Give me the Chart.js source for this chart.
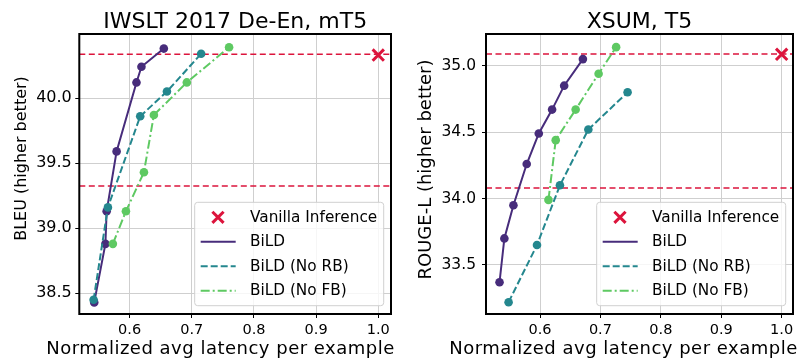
<!DOCTYPE html>
<html><head><meta charset="utf-8">
<script src="https://cdn.jsdelivr.net/npm/chart.js@4.4.0/dist/chart.umd.min.js"></script>
<style>
html,body{margin:0;padding:0;background:#fff;}
#wrap{position:relative;width:804px;height:362px;overflow:hidden;}
.c{position:absolute;top:0;height:362px;width:402px;}
</style></head><body>
<div id="wrap">
<div class="c" style="left:0"><canvas id="c1"></canvas></div>
<div class="c" style="left:402px"><canvas id="c2"></canvas></div>
</div>
<script>
// ---------- data ----------
const seriesLabels = ['Vanilla Inference', 'BiLD', 'BiLD (No RB)', 'BiLD (No FB)'];
const xLabel = 'Normalized avg latency per example';
const xTicks = [0.6, 0.7, 0.8, 0.9, 1.0];

// IWSLT 2017 De-En, mT5
const iwsltTitle = 'IWSLT 2017 De-En, mT5';
const iwsltYLabel = 'BLEU (higher better)';
const iwsltYTicks = [38.5, 39.0, 39.5, 40.0];
const iwsltVanillaX = [1.0];
const iwsltVanillaY = [40.33];
const iwsltRefLines = [40.336, 39.325];
const iwsltBildX = [0.543, 0.561, 0.563, 0.579, 0.611, 0.619, 0.655];
const iwsltBildY = [38.43, 38.88, 39.13, 39.59, 40.12, 40.24, 40.38];
const iwsltNoRbX = [0.542, 0.565, 0.617, 0.660, 0.715];
const iwsltNoRbY = [38.45, 39.16, 39.86, 40.05, 40.34];
const iwsltNoFbX = [0.573, 0.594, 0.623, 0.639, 0.692, 0.760];
const iwsltNoFbY = [38.88, 39.13, 39.43, 39.87, 40.12, 40.39];

// XSUM, T5
const xsumTitle = 'XSUM, T5';
const xsumYLabel = 'ROUGE-L (higher better)';
const xsumYTicks = [33.5, 34.0, 34.5, 35.0];
const xsumVanillaX = [1.0];
const xsumVanillaY = [35.086];
const xsumRefLines = [35.088, 34.08];
const xsumBildX = [0.533, 0.541, 0.556, 0.578, 0.598, 0.620, 0.640, 0.671];
const xsumBildY = [33.37, 33.70, 33.95, 34.26, 34.49, 34.67, 34.85, 35.05];
const xsumNoRbX = [0.548, 0.595, 0.633, 0.680, 0.745];
const xsumNoRbY = [33.22, 33.65, 34.10, 34.52, 34.80];
const xsumNoFbX = [0.614, 0.626, 0.659, 0.697, 0.726];
const xsumNoFbY = [33.99, 34.44, 34.67, 34.94, 35.14];

// ---------- style ----------
const FONT = 'DejaVu Sans';
const RED = '#dc143c';
const COLORS = ['#472c7b', '#24878e', '#5ec962'];
const DASHES = [[], [7, 3], [9, 3, 2, 3]];

const pts = (xs, ys) => xs.map((x, i) => ({x: x, y: ys[i]}));

const framePlugin = {
  id: 'frame',
  afterDatasetsDraw(chart) {
    const {ctx, chartArea: a} = chart;
    ctx.save();
    ctx.strokeStyle = '#000';
    ctx.lineWidth = 2;
    ctx.strokeRect(a.left, a.top, a.right - a.left, a.bottom - a.top);
    ctx.restore();

    // legend (lower right, inside axes)
    const rows = chart.data.datasets.filter(d => d.legendLabel);
    ctx.save();
    ctx.font = '15.3px "' + FONT + '"';
    let tw = 0;
    rows.forEach(r => { tw = Math.max(tw, ctx.measureText(r.legendLabel).width); });
    const w = 55.3 + tw + 6.5, h = 103.4;
    const bx = a.right - 7.3 - w, by = a.bottom - 8.3 - h;
    ctx.beginPath();
    ctx.roundRect(bx, by, w, h, 3);
    ctx.fillStyle = 'rgba(255,255,255,0.8)';
    ctx.fill();
    ctx.strokeStyle = '#d0d0d0';
    ctx.lineWidth = 1;
    ctx.stroke();
    const rowY = [15, 39.5, 64, 88.5];
    rows.forEach((r, i) => {
      const cy = by + rowY[i];
      if (r.isMarker) {
        const cx = bx + 23.3, s = 5.6;
        ctx.strokeStyle = r.borderColor;
        ctx.lineWidth = 3;
        ctx.setLineDash([]);
        ctx.beginPath();
        ctx.moveTo(cx - s, cy - s); ctx.lineTo(cx + s, cy + s);
        ctx.moveTo(cx + s, cy - s); ctx.lineTo(cx - s, cy + s);
        ctx.stroke();
      } else {
        ctx.strokeStyle = r.borderColor;
        ctx.lineWidth = r.borderWidth;
        ctx.setLineDash(r.borderDash || []);
        ctx.beginPath();
        ctx.moveTo(bx + 6, cy); ctx.lineTo(bx + 41, cy);
        ctx.stroke();
      }
      ctx.setLineDash([]);
      ctx.fillStyle = '#000';
      ctx.textBaseline = 'middle';
      ctx.textAlign = 'left';
      ctx.fillText(r.legendLabel, bx + 55.3, cy + 0.5);
    });
    ctx.restore();
  },
  afterDraw(chart) {
    const {ctx, chartArea: a} = chart;
    const o = chart.options.plugins.frame;
    ctx.save();
    ctx.fillStyle = '#000';
    // title
    ctx.font = '22px "' + FONT + '"';
    ctx.textAlign = 'center';
    ctx.textBaseline = 'alphabetic';
    ctx.fillText(o.title, (a.left + a.right) / 2, 28.3);
    // x label
    ctx.font = '18px "' + FONT + '"';
    if ('letterSpacing' in ctx) ctx.letterSpacing = '0.5px';
    ctx.fillText(o.xLabel, (a.left + a.right) / 2 + o.xShift, 353.7);
    if ('letterSpacing' in ctx) ctx.letterSpacing = '0px';
    // y label
    ctx.font = o.yLabelSize + 'px "' + FONT + '"';
    ctx.translate(o.yLabelX, o.yLabelY);
    ctx.rotate(-Math.PI / 2);
    ctx.fillText(o.yLabel, 0, 0);
    ctx.restore();
  }
};

function makeChart(id, c) {
  const datasets = [];
  c.refLines.forEach(v => {
    datasets.push({
      data: [{x: c.xMin, y: v}, {x: c.xMax, y: v}],
      showLine: true, borderColor: RED, borderWidth: 1.5, borderDash: [6, 3.5],
      pointRadius: 0, order: 10
    });
  });
  datasets.push({
    data: pts(c.vx, c.vy), legendLabel: seriesLabels[0], isMarker: true,
    pointStyle: 'crossRot', pointRadius: 8, pointBorderWidth: 3,
    borderColor: RED, backgroundColor: RED, showLine: false, order: 4
  });
  c.series.forEach((s, i) => {
    datasets.push({
      data: pts(s[0], s[1]), legendLabel: seriesLabels[i + 1],
      showLine: true, borderColor: COLORS[i], backgroundColor: COLORS[i],
      borderWidth: 2, borderDash: DASHES[i], pointRadius: 4.3, pointBorderWidth: 0,
      pointBackgroundColor: COLORS[i], order: 3 - i
    });
  });
  new Chart(document.getElementById(id), {
    type: 'scatter',
    data: {datasets},
    options: {
      responsive: true, maintainAspectRatio: false, animation: false,
      devicePixelRatio: 1,
      layout: {padding: {top: 34, right: c.padRight, left: 0, bottom: 0}},
      plugins: {legend: {display: false}, tooltip: {enabled: false}, title: {display: false},
                frame: {title: c.title, xLabel: xLabel, xShift: c.xShift, yLabel: c.yLabel,
                        yLabelSize: c.yLabelSize, yLabelX: c.yLabelX, yLabelY: c.yLabelY}},
      scales: {
        x: {
          type: 'linear', min: c.xMin, max: c.xMax,
          afterBuildTicks: s => { s.ticks = xTicks.map(v => ({value: v})); },
          afterFit: s => { s.height = 48; },
          grid: {color: '#cfcfcf', lineWidth: 1, tickColor: '#000', tickLength: 4, drawTicks: true},
          border: {display: false},
          ticks: {color: '#000', font: {family: FONT, size: 14.5}, padding: 4, maxRotation: 0,
                  autoSkip: false, callback: v => Number(v).toFixed(1)},
          title: {display: false}
        },
        y: {
          type: 'linear', min: c.yMin, max: c.yMax,
          afterBuildTicks: s => { s.ticks = c.yTicks.map(v => ({value: v})); },
          afterFit: s => { s.width = c.yWidth; },
          grid: {color: '#cfcfcf', lineWidth: 1, tickColor: '#000', tickLength: 4, drawTicks: true},
          border: {display: false},
          ticks: {color: '#000', font: {family: FONT, size: c.yTickSize}, padding: c.yPad,
                  autoSkip: false, callback: v => Number(v).toFixed(1)},
          title: {display: false}
        }
      }
    },
    plugins: [framePlugin]
  });
}

makeChart('c1', {
  title: iwsltTitle, yLabel: iwsltYLabel, yTicks: iwsltYTicks,
  xMin: 0.519, xMax: 1.0205, yMin: 38.341, yMax: 40.492,
  vx: iwsltVanillaX, vy: iwsltVanillaY, refLines: iwsltRefLines,
  series: [[iwsltBildX, iwsltBildY], [iwsltNoRbX, iwsltNoRbY], [iwsltNoFbX, iwsltNoFbY]],
  padRight: 4.7, yWidth: 79.3, yPad: 3.5, yTickSize: 16,
  xShift: -14.6, yLabelSize: 16, yLabelX: 25.5, yLabelY: 158.5
});
makeChart('c2', {
  title: xsumTitle, yLabel: xsumYLabel, yTicks: xsumYTicks,
  xMin: 0.5106, xMax: 1.0188, yMin: 33.131, yMax: 35.239,
  vx: xsumVanillaX, vy: xsumVanillaY, refLines: xsumRefLines,
  series: [[xsumBildX, xsumBildY], [xsumNoRbX, xsumNoRbY], [xsumNoFbX, xsumNoFbY]],
  padRight: 1.3, yWidth: 84, yPad: 6, yTickSize: 15.5,
  xShift: -16, yLabelSize: 18, yLabelX: 28.5, yLabelY: 169.5
});
</script>
</body></html>
